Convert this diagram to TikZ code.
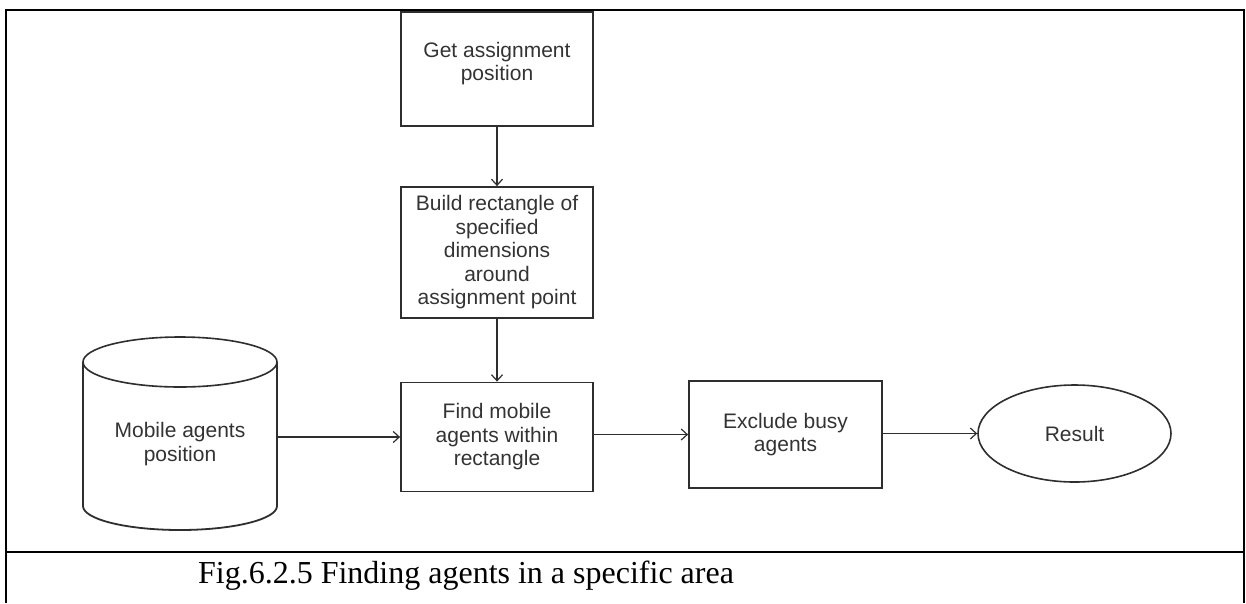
\documentclass[tikz,border=0pt]{standalone}
\usepackage{fontspec}
\setmainfont{Liberation Serif}
\newfontfamily\boxfont{Liberation Sans}
\usetikzlibrary{shapes.geometric,arrows.meta}
\definecolor{inkline}{HTML}{2E2E2E}
\definecolor{inktext}{HTML}{333333}
\tikzset{
  procbox/.style={draw=inkline, line width=1.8pt, rectangle, align=center,
    text=inktext, font=\boxfont\fontsize{21}{23.5}\selectfont,
    inner sep=0pt, minimum width=192pt},
  termnode/.style={draw=inkline, line width=1.6pt, ellipse, align=center,
    text=inktext, font=\boxfont\fontsize{21}{23.5}\selectfont,
    inner sep=0pt, minimum width=193pt, minimum height=97pt},
  flow/.style={draw=inkline, line width=1.5pt,
    -{Straight Barb[length=6pt,width=11pt,line width=1.2pt]}},
  frameline/.style={draw=black, line width=2.6pt}
}
\begin{document}
\begin{tikzpicture}[x=1pt,y=-1pt]
  \useasboundingbox (0,0) rectangle (1246,603);

  % table frame holding the figure and its caption
  \draw[frameline] (6,603) -- (6,10) -- (1244,10) -- (1244,603);
  \draw[frameline] (6,552) -- (1244,552);

  % process steps
  \node[procbox, minimum height=114pt] (get) at (497,69) {};
  \node[text=inktext, font=\boxfont\fontsize{21}{23.5}\selectfont, align=center,
        inner sep=0pt] (gettext) at (497,63.5) {Get assignment\\position};
  \node[procbox, minimum height=131pt] (build) at (497,252.5)
    {Build rectangle of\\specified\\dimensions\\around\\assignment point};
  \node[procbox, minimum height=109pt] (find) at (497,437)
    {Find mobile\\agents within\\rectangle};
  \node[procbox, minimum width=193pt, minimum height=107pt] (excl) at (785.5,434.5)
    {Exclude busy\\agents};
  \node[termnode] (result) at (1074.5,433.5) {Result};

  % data store: cylinder
  \draw[inkline, line width=1.8pt, fill=white]
    (83,362) -- (83,506) arc[start angle=180, end angle=360, x radius=97pt, y radius=24pt]
    -- (277,362);
  \draw[inkline, line width=1.6pt] (180,362) ellipse [x radius=97pt, y radius=25pt];
  \node[rectangle, inner sep=0pt, minimum width=194pt, minimum height=120pt,
        align=center, text=inktext, font=\boxfont\fontsize{21}{23.5}\selectfont]
    (store) at (180,444) {Mobile agents\\position};

  % connectors
  \draw[flow] (get.south) -- (build.north);
  \draw[flow] (build.south) -- (find.north);
  \draw[flow] (find.west -| store.east) -- (find.west);
  \draw[flow] (excl.west -| find.east) -- (excl.west);
  \draw[flow] (result.west -| excl.east) -- (result.west);

  % caption
  \node[anchor=base, font=\fontsize{32}{36}\selectfont, inner sep=0pt] (caption)
    at (466,583) {Fig.6.2.5 Finding agents in a specific area};
\end{tikzpicture}
\end{document}
